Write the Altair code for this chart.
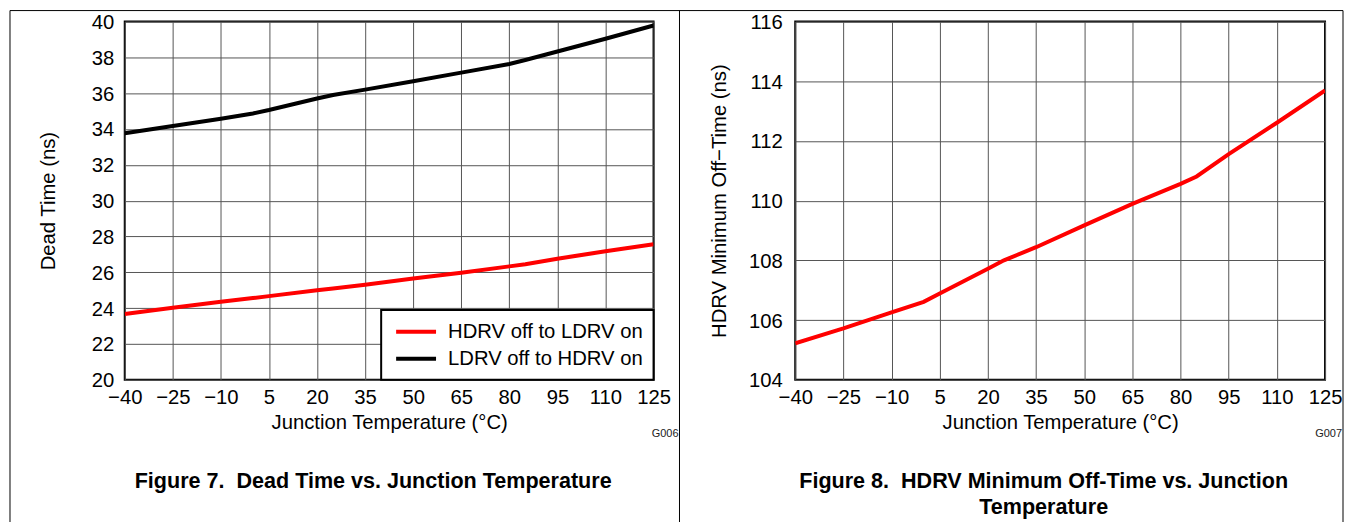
import altair as alt
import pandas as pd

# ---- data ----
temps = [-40, -25, -10, 0, 5, 20, 25, 35, 50, 65, 80, 85, 95, 110, 125]
hdrv_to_ldrv = [23.67, 24.02, 24.35, 24.56, 24.67, 25.0, 25.1, 25.31, 25.65, 25.98, 26.33, 26.45, 26.76, 27.17, 27.56]
ldrv_to_hdrv = [33.76, 34.17, 34.57, 34.87, 35.06, 35.7, 35.9, 36.2, 36.67, 37.15, 37.63, 37.85, 38.33, 39.04, 39.78]
min_off_time = [105.22, 105.72, 106.26, 106.61, 106.89, 107.72, 108.0, 108.44, 109.17, 109.89, 110.56, 110.81, 111.56, 112.61, 113.69]

series_names = ["HDRV off to LDRV on", "LDRV off to HDRV on"]
series_colors = ["#ff0000", "#000000"]
x_ticks = [-40, -25, -10, 5, 20, 35, 50, 65, 80, 95, 110, 125]
y_ticks_left = [20, 22, 24, 26, 28, 30, 32, 34, 36, 38, 40]
y_ticks_right = [104, 106, 108, 110, 112, 114, 116]
title_left = "Figure 7.\u00a0 Dead Time vs. Junction Temperature"
title_right = "Figure 8.\u00a0 HDRV Minimum Off-Time vs. Junction\nTemperature"

FONT = "Liberation Sans"
FS = 20.3
W, H = 530, 359

df_left = pd.DataFrame({
    "T": temps * 2,
    "v": hdrv_to_ldrv + ldrv_to_hdrv,
    "s": [series_names[0]] * len(temps) + [series_names[1]] * len(temps),
})
df_right = pd.DataFrame({"T": temps, "v": min_off_time})
one = pd.DataFrame({"a": [0]})

minus_expr = "datum.value < 0 ? '\u2212' + abs(datum.value) : datum.label"

x_axis = alt.Axis(values=x_ticks, labelExpr=minus_expr, title="Junction Temperature (\u00b0C)",
                  labelPadding=8, titlePadding=5, labelOverlap=False, labelFlush=False)
x_enc = alt.X("T:Q", scale=alt.Scale(domain=[-40, 125], nice=False, zero=False), axis=x_axis)

left_lines = alt.Chart(df_left).mark_line(strokeWidth=4, clip=True).encode(
    x=x_enc,
    y=alt.Y("v:Q", scale=alt.Scale(domain=[20, 40], nice=False, zero=False),
            axis=alt.Axis(values=y_ticks_left, title="Dead Time (ns)", titlePadding=33, labelPadding=11,
                          labelOverlap=False, labelFlush=False, labelBaseline="alphabetic",
                          labelOffset=7)),
    color=alt.Color("s:N", scale=alt.Scale(domain=series_names, range=series_colors),
                    legend=alt.Legend(title=None, orient="bottom-right", offset=0, padding=10,
                                      strokeColor="black", fillColor="white",
                                      symbolType="M-2,0H2", symbolSize=400, symbolStrokeWidth=4,
                                      symbolOffset=13,
                                      labelFontSize=FS, labelFont=FONT, labelOffset=20,
                                      rowPadding=4, labelLimit=400)),
    order=alt.Order("s:N"),
)

frame = alt.Chart(one).mark_rule(color="black", strokeWidth=1)
frame_top = frame.encode(x=alt.value(-115), x2=alt.value(1221), y=alt.value(-11))
frame_left = frame.encode(x=alt.value(-115), y=alt.value(-11), y2=alt.value(502))
frame_mid = frame.encode(x=alt.value(556), y=alt.value(-11), y2=alt.value(502))
frame_right = frame.encode(x=alt.value(1221), y=alt.value(-11), y2=alt.value(502))

g_left = alt.Chart(one).mark_text(text="G006", align="right", baseline="middle", fontSize=11,
                                  font=FONT, color="#222222").encode(x=alt.value(555), y=alt.value(413))
t_left = alt.Chart(one).mark_text(text=title_left, align="center", baseline="alphabetic", fontSize=21.6,
                                  fontWeight="bold", font=FONT, color="black").encode(
    x=alt.value(249), y=alt.value(467))

left = alt.layer(left_lines, frame_top, frame_left, frame_mid, frame_right, g_left, t_left).properties(
    width=W, height=H)

right_line = alt.Chart(df_right).mark_line(strokeWidth=4, color="#ff0000", clip=True).encode(
    x=x_enc,
    y=alt.Y("v:Q", scale=alt.Scale(domain=[104, 116], nice=False, zero=False),
            axis=alt.Axis(values=y_ticks_right, title="HDRV Minimum Off\u2212Time (ns)", titlePadding=19,
                          labelPadding=13, labelOverlap=False, labelFlush=False,
                          labelBaseline="alphabetic", labelOffset=7)),
)
g_right = alt.Chart(one).mark_text(text="G007", align="right", baseline="middle", fontSize=11,
                                   font=FONT, color="#222222").encode(x=alt.value(548), y=alt.value(413))
t_right = alt.Chart(one).mark_text(text=title_right, lineBreak="\n", lineHeight=27, align="center",
                                   baseline="alphabetic", fontSize=21.6, fontWeight="bold", font=FONT,
                                   color="black").encode(x=alt.value(249), y=alt.value(467))

right = alt.layer(right_line, g_right, t_right).properties(width=531, height=H)

chart = alt.hconcat(left, right, spacing=142, bounds="flush").resolve_scale(
    color="independent", x="independent", y="independent"
).resolve_legend(color="independent").properties(
    padding=0, background="white"
).configure_view(
    stroke="black", strokeWidth=2
).configure_axis(
    grid=True, gridColor="#555555", gridWidth=1, domain=False, ticks=False, tickSize=0,
    labelFont=FONT, labelFontSize=FS, labelColor="black",
    titleFont=FONT, titleFontSize=FS, titleFontWeight="normal", titleColor="black",
).configure_legend(strokeWidth=2)

chart.save("out.html", embed_options={"renderer": "svg", "actions": False})
